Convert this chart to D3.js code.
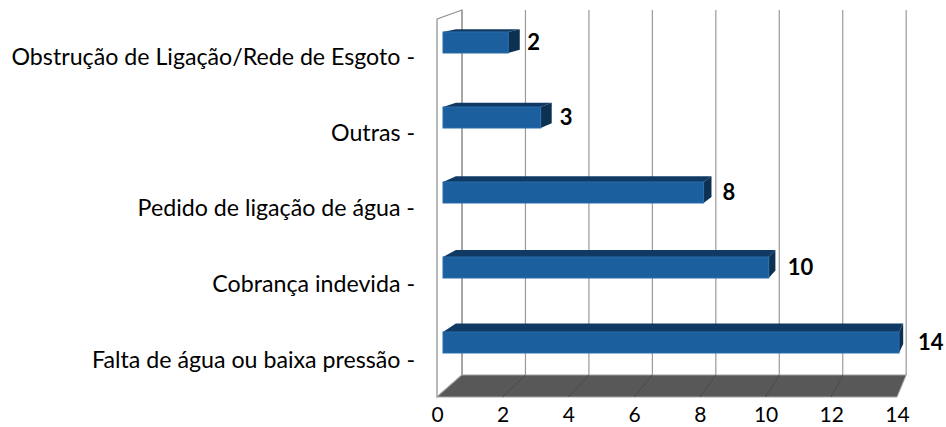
<!doctype html>
<html lang="pt">
<head>
    <meta charset="utf-8">
    <title></title>
    <script src="https://d3js.org/d3.v7.min.js"></script>
    <style type="text/css">
        body { margin: 0; background: #fff; }
        text { font-family: Lato, "Open Sans", sans-serif; fill: #000; }
    </style>
</head>

<body>
</body>

<script type="text/javascript">

    // categories top -> bottom, and their counts
    var categories = ["Obstrução de Ligação/Rede de Esgoto",
                      "Outras",
                      "Pedido de ligação de água",
                      "Cobrança indevida",
                      "Falta de água ou baixa pressão"];
    var values     = [2, 3, 8, 10, 14];
    var tickValues = [0, 2, 4, 6, 8, 10, 12, 14];

    var pixel_width  = 946;
    var pixel_height = 427;

    // front plane of the 3d box
    var frontLeft = 437, frontRight = 897, frontTop = 19, frontBottom = 397;

    // fake perspective: points are pulled toward a vanishing point
    var wallVP = [1164, -243], wallDepth = 0.0344;
    var barVP  = [1120, -118], barDepth  = 0.019;

    function project(p, vp, k) {
        return [p[0] + k * (vp[0] - p[0]), p[1] + k * (vp[1] - p[1])];
    }
    function back(p)    { return project(p, wallVP, wallDepth); }
    function barBack(p) { return project(p, barVP, barDepth); }

    var xScale = d3.scaleLinear()
                 .domain([0, 14])
                 .range([frontLeft, frontRight]);

    var xBar = d3.scaleLinear()
               .domain([0, 14])
               .range([443, 899]);

    var yLabel = d3.scaleBand()
                 .domain(categories)
                 .range([frontTop, frontBottom]);

    var yBar = d3.scaleBand()
               .domain(categories)
               .range([5, 380])
               .paddingInner(0.72)
               .paddingOuter(0.36);

    var svg = d3.select("body")
                .append("svg")
                .attr("width", pixel_width)
                .attr("height", pixel_height);

    var line = d3.line();

    // left side wall
    svg.append("path")
       .attr("d", line([[frontLeft, frontTop], back([frontLeft, frontTop]),
                        back([frontLeft, frontBottom]), [frontLeft, frontBottom]]) + "Z")
       .style("fill", "#fff")
       .style("stroke", "#8c8c8c")
       .style("stroke-width", 1.2);

    // back wall gridlines
    svg.selectAll(".grid")
       .data(tickValues)
       .enter()
       .append("path")
       .attr("class", "grid")
       .attr("d", (d) => line([back([xScale(d), frontTop]), back([xScale(d), frontBottom])]))
       .style("stroke", "#9a9a9a")
       .style("stroke-width", 1.2)
       .style("fill", "none");

    // floor
    svg.append("path")
       .attr("d", line([[frontLeft, frontBottom], [frontRight, frontBottom],
                        back([frontRight, frontBottom]), back([frontLeft, frontBottom])]) + "Z")
       .style("fill", "#585858")
       .style("stroke", "#a6a6a6")
       .style("stroke-width", 1);

    svg.selectAll(".floorline")
       .data(tickValues.slice(1, -1))
       .enter()
       .append("path")
       .attr("class", "floorline")
       .attr("d", (d) => line([[xScale(d), frontBottom], back([xScale(d), frontBottom])]))
       .style("stroke", "#4a4a4a")
       .style("stroke-width", 1);

    // bars
    var bars = svg.selectAll(".bar")
                  .data(categories.map((c, i) => ({cat: c, value: values[i]})))
                  .enter()
                  .append("g")
                  .attr("class", "bar");

    function corners(d) {
        var xl = xBar(0), xr = xBar(d.value);
        var yt = yBar(d.cat), yb = yBar(d.cat) + yBar.bandwidth();
        return {xl: xl, xr: xr, yt: yt, yb: yb};
    }

    bars.append("path")
        .attr("d", (d) => {
            var c = corners(d);
            return line([[c.xl, c.yt], [c.xr, c.yt], barBack([c.xr, c.yt]), barBack([c.xl, c.yt])]) + "Z";
        })
        .style("fill", "#103a63");

    bars.append("path")
        .attr("d", (d) => {
            var c = corners(d);
            return line([[c.xr, c.yt], barBack([c.xr, c.yt]), barBack([c.xr, c.yb]), [c.xr, c.yb]]) + "Z";
        })
        .style("fill", "#0d3153");

    bars.append("rect")
        .attr("x", (d) => corners(d).xl)
        .attr("y", (d) => corners(d).yt)
        .attr("width", (d) => corners(d).xr - corners(d).xl)
        .attr("height", yBar.bandwidth())
        .style("fill", "#1b5f9f")
        .style("stroke", "#2a6cab")
        .style("stroke-width", 1);

    // value labels
    bars.append("text")
        .text((d) => d.value)
        .attr("x", (d) => xBar(d.value) + 19)
        .attr("y", (d) => yBar(d.cat) + yBar.bandwidth() / 2)
        .attr("dy", "0.36em")
        .style("font-size", "22px")
        .style("font-weight", "bold");

    // category labels
    svg.selectAll(".cat")
       .data(categories)
       .enter()
       .append("text")
       .attr("class", "cat")
       .text((d) => d + " -")
       .attr("x", 415)
       .attr("y", (d) => yLabel(d) + yLabel.bandwidth() / 2)
       .attr("dy", "0.36em")
       .attr("text-anchor", "end")
       .style("font-size", "23.2px");

    // value axis
    var axis = svg.append("g")
                  .attr("transform", "translate(0," + frontBottom + ")")
                  .call(d3.axisBottom(xScale).tickValues(tickValues).tickSize(0).tickPadding(10));

    axis.select(".domain").remove();
    axis.selectAll("text")
        .style("font-size", "21px")
        .style("font-family", "Lato, 'Open Sans', sans-serif")
        .style("fill", "#000");

</script>

</html>
